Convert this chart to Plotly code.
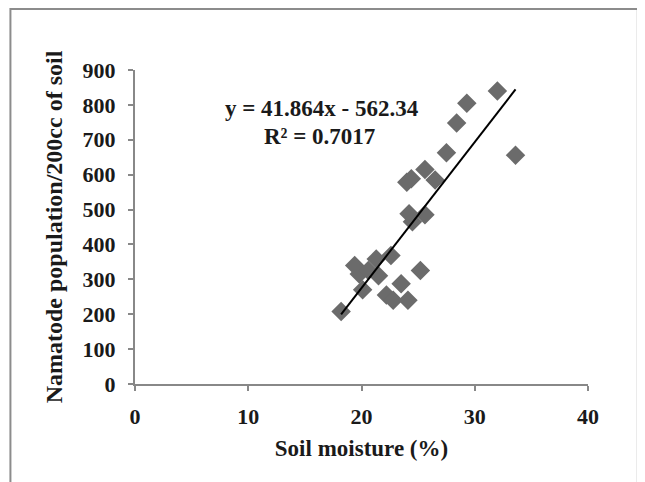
import plotly.graph_objects as go

# Data
soil_moisture = [18.2, 19.4, 19.8, 20.1, 20.6, 21.3, 21.5, 22.6, 22.2, 22.8, 23.5, 24.1,
                 25.2, 24.2, 24.5, 25.6, 24.0, 24.4, 25.6, 26.5, 27.5, 28.4, 29.3, 32.0, 33.6]
nematode_pop = [208, 340, 315, 270, 325, 358, 310, 368, 255, 240, 287, 240,
                325, 488, 465, 485, 578, 588, 615, 585, 663, 748, 805, 840, 656]

slope, intercept, r2 = 41.864, -562.34, 0.7017
x_ticks = [0, 10, 20, 30, 40]
y_ticks = [0, 100, 200, 300, 400, 500, 600, 700, 800, 900]

xmin, xmax = min(soil_moisture), max(soil_moisture)
trend_x = [xmin, xmax]
trend_y = [slope * v + intercept for v in trend_x]

font_family = "Liberation Serif"
txt = "#1a1a1a"

fig = go.Figure()
fig.add_trace(go.Scatter(
    x=soil_moisture, y=nematode_pop, mode="markers",
    marker=dict(symbol="diamond", size=15, color="#6b6b6b", line=dict(width=0)),
    showlegend=False))
fig.add_trace(go.Scatter(
    x=trend_x, y=trend_y, mode="lines",
    line=dict(color="black", width=2), showlegend=False))

fig.add_annotation(x=0.412, y=0.877, xref="paper", yref="paper",
                   xanchor="center", yanchor="middle",
                   text="<b>y = 41.864x - 562.34</b>", showarrow=False,
                   font=dict(family=font_family, size=23, color=txt))
fig.add_annotation(x=0.408, y=0.788, xref="paper", yref="paper",
                   xanchor="center", yanchor="middle",
                   text="<b>R² = 0.7017</b>", showarrow=False,
                   font=dict(family=font_family, size=23, color=txt))

# outer frame
fig.add_shape(type="rect", xref="paper", yref="paper",
              x0=-0.275, x1=1.110, y0=-0.40, y1=1.194,
              line=dict(color="#8c8c8c", width=2))

axis_common = dict(showgrid=False, zeroline=False, showline=True,
                   linecolor="#888888", linewidth=2, ticks="outside",
                   tickcolor="#888888", ticklen=5, tickwidth=1.5,
                   automargin=False,
                   tickfont=dict(family=font_family, size=22, color=txt))

fig.update_xaxes(range=[0, 40], tickvals=x_ticks,
                 ticktext=[f"<b>{v}</b>" for v in x_ticks],
                 ticklabelstandoff=7,
                 title=dict(text="<b>Soil moisture (%)</b>",
                            font=dict(family=font_family, size=23, color=txt),
                            standoff=11),
                 **axis_common)
fig.update_yaxes(range=[0, 900], tickvals=y_ticks,
                 ticktext=[f"<b>{v}</b>" for v in y_ticks],
                 ticklabelstandoff=8,
                 title=dict(text="<b>Namatode population/200cc of soil</b>",
                            font=dict(family=font_family, size=24, color=txt),
                            standoff=13),
                 **axis_common)

fig.update_layout(width=645, height=482,
                  margin=dict(l=127, r=65, t=62, b=106),
                  plot_bgcolor="white", paper_bgcolor="white")

fig.write_html("out.html")
